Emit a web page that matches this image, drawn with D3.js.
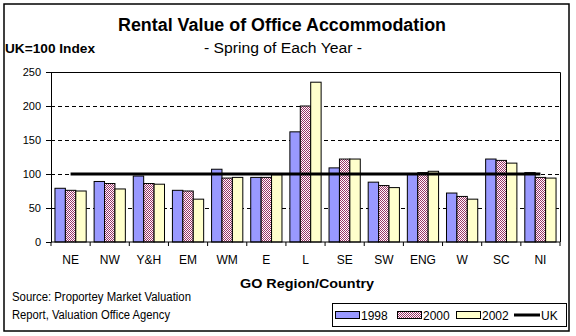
<!DOCTYPE html>
<html><head><meta charset="utf-8">
<script src="https://cdn.jsdelivr.net/npm/d3@7"></script>
<style>html,body{margin:0;padding:0;background:#fff}svg{display:block}text{font-family:Arial,"Liberation Sans",sans-serif}</style>
</head><body>
<script>
const categories = ["NE","NW","Y&H","EM","WM","E","L","SE","SW","ENG","W","SC","NI"];
const seriesNames = ["1998","2000","2002"];
const v1998 = [79, 89, 97, 76, 107, 95, 162, 109, 88, 100, 72, 122, 102];
const v2000 = [76, 86, 86, 75, 94, 95, 200, 122, 83, 102, 67, 120, 95];
const v2002 = [75, 78, 85, 63, 95, 99, 235, 122, 80, 104, 63, 116, 94];
const ukLine = [100,100,100,100,100,100,100,100,100,100,100,100,100];
const yTicks = [0,50,100,150,200,250];
const gridTicks = [50,100,150,200];

const W = 576, H = 336;
const svg = d3.select("body").append("svg").attr("width", W).attr("height", H);
const defs = svg.append("defs");
const pat = defs.append("pattern").attr("id","chk").attr("width",2).attr("height",2).attr("patternUnits","userSpaceOnUse");
pat.append("rect").attr("width",2).attr("height",2).attr("fill","#fff");
pat.append("rect").attr("x",0).attr("y",0).attr("width",1).attr("height",1).attr("fill","#993366");
pat.append("rect").attr("x",1).attr("y",1).attr("width",1).attr("height",1).attr("fill","#993366");

const fills = ["#9999ff","url(#chk)","#ffffcc"];
const values = [v1998, v2000, v2002];

svg.append("rect").attr("width",W).attr("height",H).attr("fill","#fff");
svg.append("rect").attr("x",4).attr("y",4).attr("width",565).attr("height",327)
  .attr("fill","none").attr("stroke","#000").attr("stroke-width",1.5);

const x = d3.scaleBand().domain(categories).range([51,560]).paddingInner(0).paddingOuter(0);
const xs = d3.scaleBand().domain(seriesNames).range([0,x.bandwidth()]).paddingInner(0).paddingOuter(0.38);
const y = d3.scaleLinear().domain([0,250]).range([242,72]);

// gridlines
svg.append("g").selectAll("line").data(gridTicks).join("line")
  .attr("x1",51).attr("x2",560).attr("y1",d=>Math.round(y(d))+0.5).attr("y2",d=>Math.round(y(d))+0.5)
  .attr("stroke","#000").attr("stroke-dasharray","4,3");
// plot border top/right
svg.append("path").attr("d",`M51,${y(250)+0.5}H560.5V${y(0)}`).attr("fill","none").attr("stroke","#000");

// bars
seriesNames.forEach((s,i)=>{
  svg.append("g").selectAll("rect").data(categories).join("rect")
    .attr("x",(c)=>x(c)+xs(s))
    .attr("y",(c,j)=>y(values[i][j]))
    .attr("width",xs.bandwidth())
    .attr("height",(c,j)=>y(0)-y(values[i][j]))
    .attr("fill",fills[i]).attr("stroke","#000").attr("stroke-width",1);
});

// y axis
const yAxis = svg.append("g").attr("transform","translate(51,0)")
  .call(d3.axisLeft(y).tickValues(yTicks).tickSize(5).tickPadding(5).tickSizeOuter(0));
yAxis.select(".domain").attr("stroke","#000");
yAxis.selectAll("text").attr("font-size",11).attr("font-family","Arial, Liberation Sans").attr("fill","#000");

// x axis
const xAxisG = svg.append("g").attr("transform",`translate(0,${y(0)})`);
xAxisG.append("line").attr("x1",51).attr("x2",560).attr("stroke","#000");
const bounds = categories.map(c=>x(c)).concat([x(categories[categories.length-1])+x.bandwidth()]);
xAxisG.selectAll("line.t").data(bounds).join("line").attr("class","t")
  .attr("x1",d=>d).attr("x2",d=>d).attr("y1",0).attr("y2",4).attr("stroke","#000");
xAxisG.selectAll("text").data(categories).join("text")
  .attr("x",c=>x(c)+x.bandwidth()/2).attr("y",22)
  .attr("text-anchor","middle").attr("font-size",12).text(c=>c);

// UK line
const line = d3.line().x((d,i)=>x(categories[i])+x.bandwidth()/2).y(d=>y(d));
svg.append("path").datum(ukLine).attr("d",line).attr("fill","none").attr("stroke","#000").attr("stroke-width",3);

// titles
svg.append("text").attr("x",282).attr("y",31).attr("text-anchor","middle")
  .attr("font-size",18).attr("font-weight","bold").attr("textLength",328).attr("lengthAdjust","spacingAndGlyphs")
  .text("Rental Value of Office Accommodation");
svg.append("text").attr("x",283).attr("y",53).attr("text-anchor","middle")
  .attr("font-size",14).attr("textLength",158).attr("lengthAdjust","spacingAndGlyphs")
  .text("- Spring of Each Year -");
svg.append("text").attr("x",5).attr("y",53)
  .attr("font-size",12).attr("font-weight","bold").attr("textLength",90).attr("lengthAdjust","spacingAndGlyphs")
  .text("UK=100 Index");
svg.append("text").attr("x",307).attr("y",288).attr("text-anchor","middle")
  .attr("font-size",13).attr("font-weight","bold").attr("textLength",134).attr("lengthAdjust","spacingAndGlyphs")
  .text("GO Region/Country");
svg.append("text").attr("x",12).attr("y",301).attr("font-size",12)
  .attr("textLength",179).attr("lengthAdjust","spacingAndGlyphs").text("Source: Proportey Market Valuation");
svg.append("text").attr("x",12).attr("y",319).attr("font-size",12)
  .attr("textLength",158).attr("lengthAdjust","spacingAndGlyphs").text("Report, Valuation Office Agency");

// legend
const lg = svg.append("g");
lg.append("rect").attr("x",332.5).attr("y",303.5).attr("width",234).attr("height",23)
  .attr("fill","#fff").attr("stroke","#000");
const legX = [335, 397, 456];
seriesNames.forEach((s,i)=>{
  lg.append("rect").attr("x",legX[i]+0.5).attr("y",311.5).attr("width",24).attr("height",7)
    .attr("fill",fills[i]).attr("stroke","#000");
  lg.append("text").attr("x",legX[i]+26).attr("y",320).attr("font-size",12).text(s);
});
lg.append("line").attr("x1",514).attr("x2",540).attr("y1",315).attr("y2",315).attr("stroke","#000").attr("stroke-width",3);
lg.append("text").attr("x",541).attr("y",320).attr("font-size",12).text("UK");
</script>
</body></html>
